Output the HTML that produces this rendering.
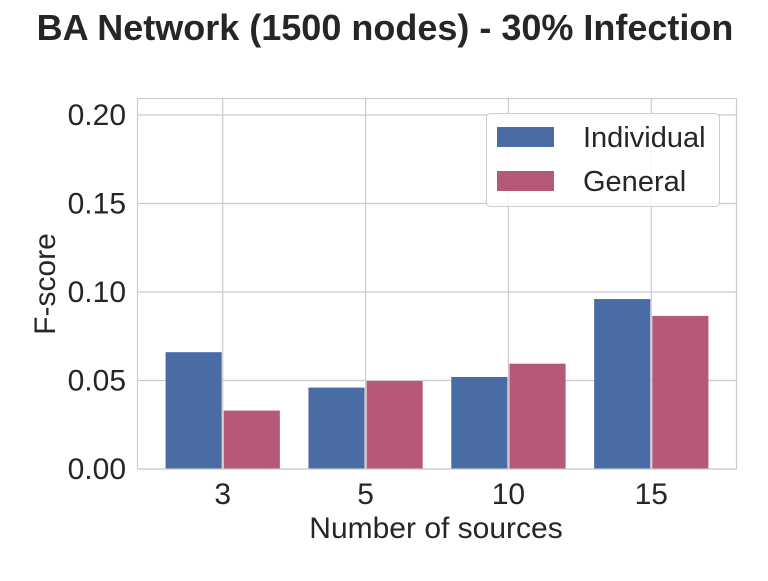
<!DOCTYPE html>
<html><head><meta charset="utf-8"><style>
body{margin:0;background:#fff;font-family:"Liberation Sans",sans-serif;}
svg text{font-family:"Liberation Sans",sans-serif;fill:#262626;}
</style></head><body>
<svg id="chart" width="768" height="576">
<text x="385" y="40" text-anchor="middle" font-size="36" font-weight="bold">BA Network (1500 nodes) - 30% Infection</text>
<g id="grid"></g><g id="bars"></g><g id="ticks"></g>
<rect x="137.5" y="98.5" width="599" height="370.5" fill="none" stroke="#cccccc" stroke-width="1.2"/>
<text x="436" y="538" text-anchor="middle" font-size="30">Number of sources</text>
<text transform="translate(55,284) rotate(-90)" text-anchor="middle" font-size="30">F-score</text>
<g>
<rect x="486.5" y="113.5" width="233" height="93" rx="4" fill="#fff" fill-opacity="0.85" stroke="#cccccc"/>
<rect x="497" y="127" width="57" height="20" fill="#4a6ca5"/>
<text x="583" y="147" font-size="29">Individual</text>
<rect x="497" y="171" width="57" height="20" fill="#b5587a"/>
<text x="583" y="191" font-size="29">General</text>
</g>
</svg>
<script>
const categories=["3","5","10","15"];
const individual=[0.066,0.046,0.052,0.096];
const general=[0.033,0.0497,0.0595,0.0865];
const yTicks=[0,0.05,0.10,0.15,0.20];
const yTickLabels=["0.00","0.05","0.10","0.15","0.20"];
const NS="http://www.w3.org/2000/svg";
const L=137,R=737,T=98,B=469,ymax=0.2096;
const xs=v=>L+(v+0.6)/4.2*(R-L);
const ys=v=>B-v/ymax*(B-T);
function mk(t,a,p){const e=document.createElementNS(NS,t);for(const k in a)e.setAttribute(k,a[k]);document.getElementById(p).appendChild(e);return e;}
yTicks.forEach((v,i)=>{
 const g=mk('line',{x1:L,x2:R,y1:ys(v),y2:ys(v),stroke:'#cccccc','stroke-width':1.2},'grid');
 
 
 const t=mk('text',{x:126,y:ys(v)+10,'text-anchor':'end','font-size':30},'ticks');
 t.textContent=yTickLabels[i];
 
 
});
categories.forEach((c,i)=>{
 const g=mk('line',{x1:xs(i),x2:xs(i),y1:T,y2:B,stroke:'#cccccc','stroke-width':1.2},'grid');
 
 
 const t=mk('text',{x:xs(i),y:504,'text-anchor':'middle','font-size':30},'ticks');
 t.textContent=c;
 
 
 const w=xs(0.4)-xs(0);
 const b1=mk('rect',{x:xs(i-0.4),y:ys(individual[i]),width:w-1,height:B-ys(individual[i]),fill:'#4a6ca5'},'bars');
 
 
 const b2=mk('rect',{x:xs(i)+1,y:ys(general[i]),width:w-1,height:B-ys(general[i]),fill:'#b5587a'},'bars');
 
 
});
</script>
</body></html>
